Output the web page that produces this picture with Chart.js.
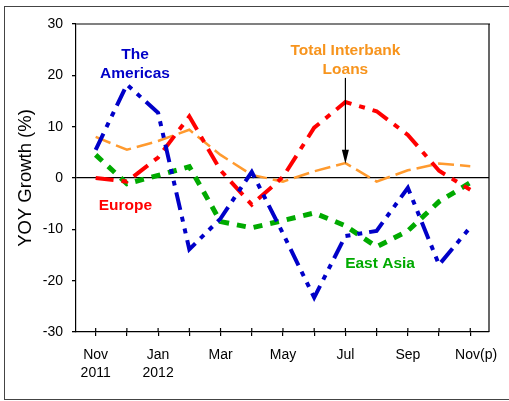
<!DOCTYPE html>
<html>
<head>
<meta charset="utf-8">
<script src="https://cdn.jsdelivr.net/npm/chart.js@4.4.1/dist/chart.umd.min.js"></script>
<style>
    html, body { margin: 0; padding: 0; background: #fff; }
    #wrap { position: relative; width: 509px; height: 401px; overflow: hidden; }
    #frame { position: absolute; left: 4px; top: 6px; width: 540px; height: 392px; border: 1px solid #444; border-right: none; }
    canvas { position: absolute; left: 0; top: 0; }
</style>
</head>
<body>
<div id="wrap">
    <div id="frame"></div>
    <canvas id="yoyChart" width="509" height="401"></canvas>
</div>
<script>
// YOY growth of cross-border interbank loans, Nov 2011 - Nov 2012

const months = ['Nov', 'Dec', 'Jan', 'Feb', 'Mar', 'Apr', 'May', 'Jun', 'Jul', 'Aug', 'Sep', 'Oct', 'Nov(p)'];
const tickLabels = [['Nov', '2011'], '', ['Jan', '2012'], '', 'Mar', '', 'May', '', 'Jul', '', 'Sep', '', '   Nov(p)'];
const yTicks = [-30, -20, -10, 0, 10, 20, 30];

const americas  = [5.5, 18.2, 12.7, -13.9, -7.9, 1.2, -10.8, -23.3, -11.3, -10.3, -1.9, -16.9, -9.6];
const europe    = [0, -0.7, 4.0, 12.0, 1.5, -5.2, 0.2, 9.8, 14.8, 13.0, 8.4, 1.4, -2.3];
const interbank = [8.0, 5.5, 7.2, 9.4, 4.5, 0.6, -0.7, 1.3, 2.9, -0.7, 1.5, 2.8, 2.3];
const eastAsia  = [4.5, -1.1, 0.5, 2.2, -8.5, -9.7, -8.3, -6.8, -9.3, -13.4, -10.3, -4.6, -0.9];

const BLUE = '#0000C8';
const RED = '#FF0000';
const ORANGE = '#FF9A2E';
const GREEN = '#00AA00';
const FONT = '"Liberation Sans", Arial, sans-serif';

// text labels placed in data units (month index, percent)
const notes = [
    { lines: ['The', 'Americas'], x: 1.26, y: [23.1, 19.5], color: BLUE },
    { lines: ['Total Interbank', 'Loans'], x: 8.0, y: [24.0, 20.3], color: '#F7941D' },
    { lines: ['Europe'], x: 0.95, y: [-6.2], color: RED },
    { lines: ['East Asia'], x: 9.11, y: [-17.6], color: GREEN }
];
const arrow = { x: 8, from: 19.5, to: 2.8 };

function toPoints(values) {
    return values.map((v, i) => ({ x: i, y: v }));
}

const overlay = {
    id: 'overlay',
    afterDraw(chart) {
        const { ctx, chartArea: a, scales: { x, y } } = chart;
        ctx.save();

        // top and right edge of the plot box
        ctx.strokeStyle = '#808080';
        ctx.lineWidth = 2;
        ctx.beginPath();
        ctx.moveTo(a.left, a.top);
        ctx.lineTo(a.right + 1, a.top);
        ctx.stroke();
        ctx.strokeStyle = '#000';
        ctx.lineWidth = 1.2;
        ctx.beginPath();
        ctx.moveTo(a.right, a.top);
        ctx.lineTo(a.right, a.bottom);
        ctx.stroke();

        // x tick marks also reach into the plot
        x.ticks.forEach(t => {
            const px = x.getPixelForValue(t.value);
            ctx.beginPath();
            ctx.moveTo(px, a.bottom);
            ctx.lineTo(px, a.bottom - 4);
            ctx.stroke();
        });

        // series labels
        ctx.font = 'bold 15.5px ' + FONT;
        ctx.textAlign = 'center';
        ctx.textBaseline = 'alphabetic';
        notes.forEach(n => {
            ctx.fillStyle = n.color;
            n.lines.forEach((line, i) => {
                ctx.fillText(line, x.getPixelForValue(n.x), y.getPixelForValue(n.y[i]));
            });
        });

        // arrow to the interbank line
        const ax = x.getPixelForValue(arrow.x);
        const y0 = y.getPixelForValue(arrow.from);
        const y1 = y.getPixelForValue(arrow.to);
        ctx.strokeStyle = '#000';
        ctx.fillStyle = '#000';
        ctx.lineWidth = 1.2;
        ctx.beginPath();
        ctx.moveTo(ax, y0);
        ctx.lineTo(ax, y1 - 12);
        ctx.stroke();
        ctx.beginPath();
        ctx.moveTo(ax - 3.5, y1 - 14);
        ctx.lineTo(ax + 3.5, y1 - 14);
        ctx.lineTo(ax, y1);
        ctx.closePath();
        ctx.fill();

        ctx.restore();
    }
};

function series(data, color, width, dash) {
    return {
        data: toPoints(data),
        borderColor: color,
        backgroundColor: color,
        borderWidth: width,
        borderDash: dash,
        borderCapStyle: 'butt',
        pointRadius: 0,
        tension: 0,
        fill: false
    };
}

const ctx = document.getElementById('yoyChart').getContext('2d');

new Chart(ctx, {
    type: 'line',
    data: {
        datasets: [
            Object.assign(series(americas, BLUE, 4, [18, 7, 5, 7, 5, 7]), { label: 'The Americas' }),
            Object.assign(series(europe, RED, 4, [18, 8, 6, 8]), { label: 'Europe' }),
            Object.assign(series(eastAsia, GREEN, 5, [9, 8]), { label: 'East Asia' }),
            Object.assign(series(interbank, ORANGE, 2.5, [16, 6]), { label: 'Total Interbank Loans' })
        ]
    },
    options: {
        responsive: false,
        animation: false,
        layout: { padding: { top: 24, right: 20, left: 0, bottom: 0 } },
        plugins: {
            legend: { display: false },
            tooltip: { enabled: false }
        },
        scales: {
            x: {
                type: 'linear',
                min: -0.63,
                max: 12.6,
                afterBuildTicks: scale => {
                    scale.ticks = months.map((m, i) => ({ value: i }));
                },
                afterFit: scale => { scale.height = 69; },
                border: { display: true, color: '#000', width: 1.2 },
                grid: { drawOnChartArea: false, drawTicks: true, tickLength: 4, color: '#000', tickColor: '#000', lineWidth: 1.2 },
                ticks: {
                    autoSkip: false,
                    maxRotation: 0,
                    padding: 10,
                    color: '#000',
                    font: { family: FONT, size: 14, lineHeight: 1.3 },
                    callback: (value, index) => tickLabels[index]
                }
            },
            y: {
                min: -30,
                max: 30,
                afterBuildTicks: scale => {
                    scale.ticks = yTicks.map(v => ({ value: v }));
                },
                afterFit: scale => { scale.width = 76; },
                border: { display: true, color: '#000', width: 1.2 },
                grid: {
                    drawTicks: true,
                    tickLength: 4,
                    lineWidth: 1.3,
                    tickColor: '#000',
                    color: c => (c.tick && c.tick.value === 0 ? '#000' : 'rgba(0,0,0,0)')
                },
                ticks: {
                    padding: 9,
                    color: '#000',
                    font: { family: FONT, size: 14 }
                },
                title: {
                    display: true,
                    text: 'YOY Growth (%)',
                    color: '#000',
                    padding: { top: 15, bottom: 0 },
                    font: { family: FONT, size: 18.5 }
                }
            }
        }
    },
    plugins: [overlay]
});
</script>
</body>
</html>
